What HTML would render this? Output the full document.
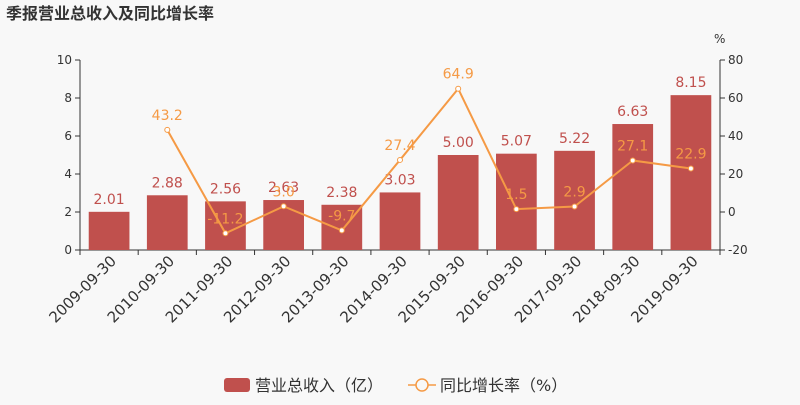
<!DOCTYPE html>
<html><head><meta charset="utf-8"><style>
body{margin:0;background:#f8f8f8;font-family:"Liberation Sans","DejaVu Sans","Noto Sans CJK SC",sans-serif}
svg text{font-family:"DejaVu Sans","Noto Sans CJK SC",sans-serif}
</style></head><body>
<svg id="c" width="800" height="400">
<text x="6" y="19" font-size="16" font-weight="bold" fill="#333">季报营业总收入及同比增长率</text>
</svg>
<script>
const categories=["2009-09-30","2010-09-30","2011-09-30","2012-09-30","2013-09-30","2014-09-30","2015-09-30","2016-09-30","2017-09-30","2018-09-30","2019-09-30"];
const revenue=[2.01,2.88,2.56,2.63,2.38,3.03,5.00,5.07,5.22,6.63,8.15];
const revenueLabels=["2.01","2.88","2.56","2.63","2.38","3.03","5.00","5.07","5.22","6.63","8.15"];
const growth=[null,43.2,-11.2,3.0,-9.7,27.4,64.9,1.5,2.9,27.1,22.9];
const growthLabels=["","43.2","-11.2","3.0","-9.7","27.4","64.9","1.5","2.9","27.1","22.9"];
const leftTicks=[0,2,4,6,8,10];
const rightTicks=[-20,0,20,40,60,80];
const svg=document.getElementById('c');const NS='http://www.w3.org/2000/svg';
const X0=80,X1=720,Y0=250,Y1=60;
const step=(X1-X0)/categories.length;
const xc=i=>X0+step*(i+0.5);
const yl=v=>Y0-(v/10)*(Y0-Y1);
const yr=v=>Y0-((v+20)/100)*(Y0-Y1);
function mk(t,a,txt){const e=document.createElementNS(NS,t);for(const k in a)e.setAttribute(k,a[k]);if(txt!=null)e.textContent=txt;svg.appendChild(e);return e;}
let e;
e=mk('line',{x1:X0,y1:Y1,x2:X0,y2:Y0,stroke:'#333'});


e=mk('line',{x1:X1,y1:Y1,x2:X1,y2:Y0,stroke:'#333'});


e=mk('line',{x1:X0,y1:Y0,x2:X1,y2:Y0,stroke:'#333'});


leftTicks.forEach(v=>{mk('line',{x1:X0-5,x2:X0,y1:yl(v),y2:yl(v),stroke:'#333'});
e=mk('text',{x:X0-8,y:yl(v)+4,'font-size':12,fill:'#333','text-anchor':'end'},v);

});
rightTicks.forEach(v=>{mk('line',{x1:X1,x2:X1+5,y1:yr(v),y2:yr(v),stroke:'#333'});
e=mk('text',{x:X1+8,y:yr(v)+4,'font-size':12,fill:'#333'},v);

});
e=mk('text',{x:714,y:43,'font-size':12,fill:'#333'},'%');


for(let i=0;i<=categories.length;i++)mk('line',{x1:X0+step*i,x2:X0+step*i,y1:Y0,y2:Y0+5,stroke:'#333'});
categories.forEach((c,i)=>{
const bw=step*0.7;
e=mk('rect',{x:xc(i)-bw/2,y:yl(revenue[i]),width:bw,height:Y0-yl(revenue[i]),fill:'#c0504d'});


e=mk('text',{x:xc(i),y:yl(revenue[i])-8,'font-size':14,fill:'#c0504d','text-anchor':'middle'},revenueLabels[i]);


e=mk('text',{x:xc(i)+8,y:Y0+12,'font-size':15,fill:'#333','text-anchor':'end',transform:`rotate(-45 ${xc(i)+8} ${Y0+12})`},c);


});
let pts=[];growth.forEach((g,i)=>{if(g!=null)pts.push(xc(i)+','+yr(g));});
e=mk('polyline',{points:pts.join(' '),fill:'none',stroke:'#f59a45','stroke-width':2});


growth.forEach((g,i)=>{if(g==null)return;
e=mk('circle',{cx:xc(i),cy:yr(g),r:2.5,fill:'#fff',stroke:'#f59a45','stroke-width':1});


e=mk('text',{x:xc(i),y:yr(g)-10,'font-size':14,fill:'#f59a45','text-anchor':'middle'},growthLabels[i]);

});
e=mk('rect',{x:224,y:378,width:26,height:14,rx:3,fill:'#c0504d'});


e=mk('text',{x:255,y:391,'font-size':16,fill:'#333'},'营业总收入（亿）');


mk('line',{x1:408,x2:436,y1:385,y2:385,stroke:'#f59a45','stroke-width':1.5});
e=mk('circle',{cx:422,cy:385,r:6,fill:'#f8f8f8',stroke:'#f59a45','stroke-width':1.5});


e=mk('text',{x:440,y:391,'font-size':16,fill:'#333'},'同比增长率（%）');


</script>
</body></html>
